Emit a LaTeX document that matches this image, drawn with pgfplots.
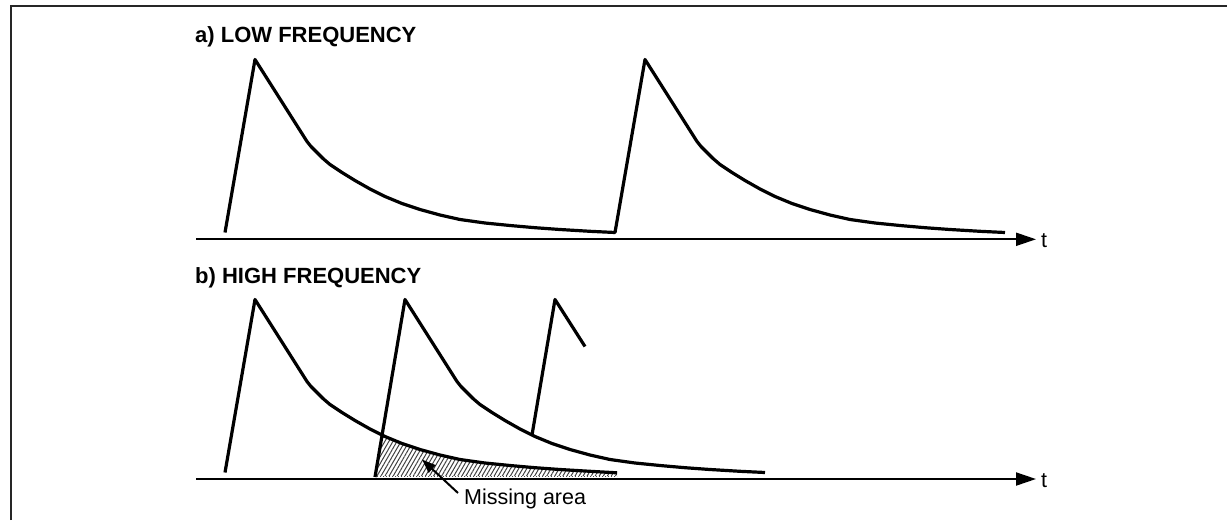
\documentclass[border=0pt]{standalone}
\usepackage{pgfplots}
\pgfplotsset{compat=1.18}
\usetikzlibrary{arrows.meta,patterns.meta}
\usepackage{fontspec}
\setmainfont{Liberation Sans}
\begin{document}
\begin{tikzpicture}
\useasboundingbox (0,0) rectangle (1227pt,520pt);
\begin{axis}[
  at={(0,0)}, anchor=south west,
  scale only axis, width=1227pt, height=520pt,
  xmin=0, xmax=1227, ymin=0, ymax=520, y dir=reverse,
  hide axis, clip=false,
]
% frame
\addplot[line width=2pt, black!85] coordinates {(11,520) (11,6) (1227,6)};
% hatched missing area
\addplot[draw=none, pattern={Lines[angle=60, distance=3.5pt, line width=1pt]}, pattern color=black!75] coordinates {
 (375,476) (382,435) (385,436.5) (402,443.5) (420,449.5) (440,455) (460,459.5)
 (485,463) (510,465.5) (535,467.7) (560,469.5) (590,471.3) (617,472.8) (617,476)} -- cycle;
\addplot[line width=1pt, black!70, dotted] coordinates {(377,476) (617,476)};
% time axes
\addplot[line width=2pt, -{Triangle[length=20pt,width=13pt]}] coordinates {(196,239.3) (1036,239.3)};
\addplot[line width=2pt, -{Triangle[length=20pt,width=13pt]}] coordinates {(196,479) (1036,479)};
% panel a
\addplot[line width=3.2pt, line join=round] coordinates {
 (225,232.5) (255,59.5) (307,141.5) (311,146.5) (317,152.5) (323,158.5) (330,164.5)
 (342,172.5) (355,180.5) (370,189) (385,196.5) (402,203.5) (420,209.5) (440,215)
 (460,219.5) (485,223) (510,225.5) (535,227.7) (560,229.5) (590,231.3) (615,232.5)
 (645,59.5) (697,141.5) (701,146.5) (707,152.5) (713,158.5) (720,164.5)
 (732,172.5) (745,180.5) (760,189) (775,196.5) (792,203.5) (810,209.5) (830,215)
 (850,219.5) (875,223) (900,225.5) (925,227.7) (950,229.5) (980,231.3) (1005,232.5)};
% panel b, pulse 1
\addplot[line width=3.2pt, line join=round] coordinates {
 (225,472.5) (255,299.5) (307,381.5) (311,386.5) (317,392.5) (323,398.5) (330,404.5)
 (342,412.5) (355,420.5) (370,429) (385,436.5) (402,443.5) (420,449.5) (440,455)
 (460,459.5) (485,463) (510,465.5) (535,467.7) (560,469.5) (590,471.3) (617,472.8)};
% panel b, pulse 2
\addplot[line width=3.2pt, line join=round] coordinates {
 (375,477) (405,299.5) (457,381.5) (461,386.5) (467,392.5) (473,398.5) (480,404.5)
 (492,412.5) (505,420.5) (520,429) (535,436.5) (552,443.5) (570,449.5) (590,455)
 (610,459.5) (635,463) (660,465.5) (685,467.7) (710,469.5) (740,471.3) (765,472.5)};
% panel b, pulse 3
\addplot[line width=3.2pt, line join=round] coordinates {(532,435) (555,299.5) (585,346.5)};
% annotation arrow
\addplot[line width=2pt, -{Triangle[length=14pt,width=10pt]}] coordinates {(458,493) (422,459.5)};
% texts
\node[anchor=base west, inner sep=0pt, font=\fontsize{22}{24}\selectfont\bfseries] at (axis cs:195,42.5) {a) LOW FREQUENCY};
\node[anchor=base west, inner sep=0pt, font=\fontsize{22}{24}\selectfont\bfseries] at (axis cs:195,283.5) {b) HIGH FREQUENCY};
\node[anchor=base west, inner sep=0pt, font=\fontsize{21.5}{24}\selectfont] at (axis cs:1041,247) {t};
\node[anchor=base west, inner sep=0pt, font=\fontsize{21.5}{24}\selectfont] at (axis cs:1041,487) {t};
\node[anchor=base west, inner sep=0pt, font=\fontsize{21.5}{24}\selectfont] at (axis cs:464,504) {Missing area};
\end{axis}
\end{tikzpicture}
\end{document}
